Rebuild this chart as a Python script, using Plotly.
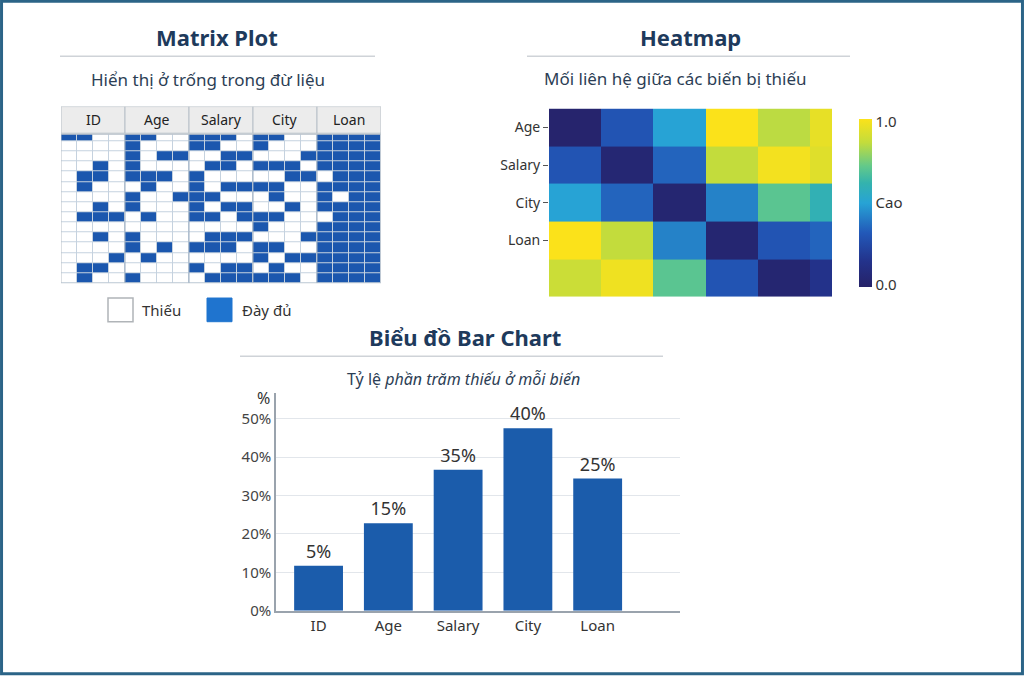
import plotly.graph_objects as go

W, H = 1024, 684

# ---------------- data ----------------
matrix_vars = ["ID", "Age", "Salary", "City", "Loan"]
# 1 = present (Đầy đủ), 0 = missing (Thiếu); 4 sub-columns per variable
matrix_rows = [
    "1100" "1100" "1110" "1100" "1111",
    "0000" "1000" "1100" "1000" "1111",
    "0000" "1011" "0011" "0001" "1111",
    "0010" "1000" "0110" "1110" "1111",
    "0110" "1110" "1000" "0011" "0111",
    "0100" "0100" "1011" "1100" "1111",
    "0000" "1001" "1100" "0100" "1011",
    "0010" "1000" "1011" "0010" "1111",
    "0111" "0100" "1101" "1100" "0111",
    "0000" "0000" "0000" "1000" "1111",
    "0010" "1000" "0111" "0001" "1111",
    "0000" "1010" "1110" "1100" "1111",
    "0001" "0100" "0000" "1011" "1111",
    "0110" "0000" "1011" "0100" "1111",
    "0100" "1000" "0111" "1110" "1111",
]
matrix_z = [[int(c) for c in r] for r in matrix_rows]

heat_labels = ["Age", "Salary", "City", "Loan"]
heat_z = [
    [0.02, 0.30, 0.50, 1.00, 0.85, 0.95],
    [0.30, 0.05, 0.35, 0.86, 0.98, 0.93],
    [0.50, 0.35, 0.04, 0.42, 0.70, 0.60],
    [1.00, 0.86, 0.42, 0.04, 0.30, 0.35],
    [0.88, 0.97, 0.70, 0.30, 0.04, 0.15],
]

bar_cats = ["ID", "Age", "Salary", "City", "Loan"]
bar_heights = [11.7, 22.8, 36.7, 47.5, 34.4]
bar_labels = ["5%", "15%", "35%", "40%", "25%"]
y_ticks = [0, 10, 20, 30, 40, 50]
y_tick_labels = ["0%", "10%", "20%", "30%", "40%", "50%"]

# ---------------- helpers ----------------
def px(x):
    return x / W

def py(y):
    return 1 - y / H

FONT = "Noto Sans"
NAVY = "#1e3a5c"
BLUE = "#1b57ae"

fig = go.Figure()

# ---------------- matrix plot ----------------
row_h = [0.7] + [1.0] * (len(matrix_z) - 1)
y_edges = [0.0]
for h in row_h:
    y_edges.append(y_edges[-1] + h)
x_edges = list(range(len(matrix_z[0]) + 1))
y_bottom = y_edges[-1]
hdr_top, hdr_bot = -2.73, -0.1

fig.add_trace(go.Heatmap(
    z=matrix_z, x=x_edges, y=y_edges,
    colorscale=[[0, "#ffffff"], [1, BLUE]], zmin=0, zmax=1,
    showscale=False, xgap=1, ygap=1, hoverinfo="skip",
    xaxis="x", yaxis="y",
))

shapes = []
annotations = []
shapes.append(dict(type="rect", xref="x", yref="y", x0=0, x1=20, y0=0, y1=y_bottom,
                   fillcolor="#c5d2df", line=dict(width=0), layer="below"))
ncol = len(matrix_vars)
for g, name in enumerate(matrix_vars):
    shapes.append(dict(type="rect", xref="x", yref="y", x0=4 * g, x1=4 * g + 4,
                       y0=hdr_top, y1=hdr_bot, fillcolor="#ececec",
                       line=dict(color="#b8c0c8", width=1)))
    annotations.append(dict(xref="x", yref="y", x=4 * g + 2, y=(hdr_top + hdr_bot) / 2,
                            text=name, showarrow=False,
                            font=dict(family=FONT, size=14, color="#222222")))
for g in range(1, ncol):
    shapes.append(dict(type="line", xref="x", yref="y", x0=4 * g, x1=4 * g,
                       y0=0, y1=y_bottom, line=dict(color="#9aacbf", width=1)))
shapes.append(dict(type="rect", xref="x", yref="y", x0=0, x1=20, y0=0, y1=y_bottom,
                   line=dict(color="#b8c0c8", width=1)))

# ---------------- heatmap ----------------
hx_edges = [0, 1, 2, 3, 4, 5, 5.42]
fig.add_trace(go.Heatmap(
    z=heat_z, x=hx_edges, y=list(range(len(heat_z))),
    colorscale=[[0.0, "#262268"], [0.15, "#23328a"], [0.32, "#2258b8"],
                [0.5, "#27a3d5"], [0.62, "#34b3ad"], [0.72, "#63c98a"],
                [0.86, "#c3dc3c"], [1.0, "#fbe21a"]],
    zmin=0, zmax=1, hoverinfo="skip",
    xaxis="x2", yaxis="y2",
    colorbar=dict(x=px(849), xanchor="left", y=py(205.5), yanchor="middle",
                  len=191 / H, lenmode="fraction", thickness=13,
                  outlinewidth=0, ticks="", tickvals=[0.015, 0.5, 0.985],
                  ticktext=["0.0", "Cao", "1.0"],
                  tickfont=dict(family=FONT, size=15, color="#333333")),
))

# ---------------- bar chart ----------------
fig.add_trace(go.Bar(
    x=bar_cats, y=bar_heights, text=bar_labels, textposition="outside",
    textfont=dict(family=FONT, size=18, color="#333333"), cliponaxis=False,
    marker=dict(color="#1b5cab", line=dict(width=0)), width=0.7,
    hoverinfo="skip", xaxis="x3", yaxis="y3",
))

# ---------------- titles ----------------
def title(x, y, text, size, bold=False, color=NAVY):
    annotations.append(dict(xref="paper", yref="paper", x=px(x), y=py(y), text=text,
                            showarrow=False, xanchor="center", yanchor="middle",
                            font=dict(family=FONT, size=size, color=color,
                                      weight="bold" if bold else "normal")))

def hline(x0, x1, y):
    shapes.append(dict(type="line", xref="paper", yref="paper", x0=px(x0), x1=px(x1),
                       y0=py(y), y1=py(y), line=dict(color="#cfd3d8", width=1.5)))

title(217, 37, "Matrix Plot", 22, True)
hline(60, 375, 57)
title(208, 81, "Hiển thị ở trống trong đừ liệu", 17, color="#2c3e55")

title(690, 37, "Heatmap", 22, True)
hline(527, 850, 57)
title(675, 80, "Mối liên hệ giữa các biến bị thiếu", 17, color="#2c3e55")

title(465, 341, "Biểu đồ Bar Chart", 22, True)
hline(240, 663, 361)
title(463, 384, "Tỷ lệ <i>phần trăm thiếu ở mỗi biến</i>", 16, color="#2c3e55")

# legend swatches for matrix
shapes.append(dict(type="rect", xref="paper", yref="paper", x0=px(108), x1=px(133),
                   y0=py(326), y1=py(302), fillcolor="#ffffff",
                   line=dict(color="#b0b4b8", width=1.5)))
shapes.append(dict(type="rect", xref="paper", yref="paper", x0=px(207), x1=px(232),
                   y0=py(326), y1=py(302), fillcolor="#1f74cf",
                   line=dict(color="#1f74cf", width=1)))
for xx, txt in [(140, "Thiếu"), (240, "Đày đủ")]:
    annotations.append(dict(xref="paper", yref="paper", x=px(xx), y=py(314), text=txt,
                            showarrow=False, xanchor="left", yanchor="middle",
                            font=dict(family=FONT, size=15, color="#333333")))

# "%" axis label
annotations.append(dict(xref="paper", yref="paper", x=px(263), y=py(403), text="%",
                        showarrow=False, xanchor="center", yanchor="middle",
                        font=dict(family=FONT, size=16, color="#333333")))

# outer border
shapes.append(dict(type="rect", xref="paper", yref="paper", x0=0.0015, x1=0.9985,
                   y0=0.002, y1=0.998, line=dict(color="#2b6487", width=3)))

fig.update_layout(
    width=W, height=H,
    margin=dict(l=0, r=0, t=0, b=0),
    paper_bgcolor="white", plot_bgcolor="white",
    showlegend=False,
    font=dict(family=FONT),
    shapes=shapes, annotations=annotations,
    xaxis=dict(domain=[px(61), px(381)], range=[0, 20], visible=False, fixedrange=True),
    yaxis=dict(domain=[py(287), py(108)], range=[y_bottom, hdr_top], visible=False,
               fixedrange=True),
    xaxis2=dict(domain=[px(549), px(832)], range=[0, 5.42], visible=False, anchor="y2"),
    yaxis2=dict(domain=[py(301), py(110)], range=[4.5, -0.5], anchor="x2",
                tickvals=list(range(len(heat_labels))), ticktext=heat_labels,
                ticks="outside", ticklen=5, tickcolor="#555555",
                showgrid=False, zeroline=False, showline=False,
                tickfont=dict(family=FONT, size=14, color="#333333")),
    xaxis3=dict(domain=[px(276), px(680)], range=[-0.61, 5.18], anchor="y3",
                showline=True, linecolor="#9aa3ad", linewidth=1.5, ticks="",
                showgrid=False, tickfont=dict(family=FONT, size=15, color="#333333")),
    yaxis3=dict(domain=[py(619), py(398)], range=[0, 56.7], anchor="x3",
                tickvals=y_ticks, ticktext=y_tick_labels, showline=True,
                linecolor="#9aa3ad", linewidth=1.5, gridcolor="#e2e6eb",
                zeroline=False, ticks="",
                tickfont=dict(family=FONT, size=15, color="#444444")),
)

fig.write_html("out.html", config={"displayModeBar": False},
               post_script="document.documentElement.style.margin='0';"
                           "document.body.style.margin='0';"
                           "document.documentElement.style.overflow='hidden';"
                           "document.body.style.overflow='hidden';")
